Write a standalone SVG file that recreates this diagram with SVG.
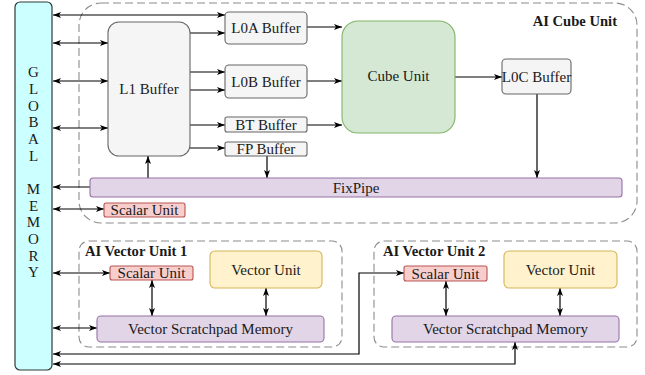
<svg xmlns="http://www.w3.org/2000/svg" width="645" height="375" viewBox="0 0 645 375">
  <style>
    text { font-family: "Liberation Serif", "Times New Roman", serif; font-size: 15px; fill: #1a1a1a; }
    .lbl { text-anchor: middle; dominant-baseline: central; }
    .bold { font-weight: bold; dominant-baseline: central; font-size: 14.6px; }
    .group { fill: none; stroke: #8c8c8c; stroke-width: 1.1; stroke-dasharray: 8 4; }
    .buf { fill: #f5f5f5; stroke: #666666; stroke-width: 1.1; }
    .cube { fill: #d5e8d4; stroke: #82b366; stroke-width: 1.1; }
    .purple { fill: #e1d5e7; stroke: #9673a6; stroke-width: 1.1; }
    .red { fill: #f8cecc; stroke: #b85450; stroke-width: 1.1; }
    .yellow { fill: #fff2cc; stroke: #d6b656; stroke-width: 1.1; }
    .gm { fill: #ccffff; stroke: #2f3a3a; stroke-width: 1.2; }
    .wire { fill: none; stroke: #000; stroke-width: 1.2; }
    .one { marker-end: url(#head); }
    .two { marker-start: url(#head); marker-end: url(#head); }
  </style>
  <defs>
    <marker id="head" viewBox="0 0 8 6" refX="8" refY="3" markerWidth="8" markerHeight="6" markerUnits="userSpaceOnUse" orient="auto-start-reverse">
      <path d="M0,0 L8,3 L0,6 L2,3 z" fill="#000"/>
    </marker>
  </defs>

  <!-- dashed unit frames -->
  <g id="ai-cube-unit">
    <rect class="group" x="79" y="3" width="558" height="220" rx="22"/>
    <text class="bold" x="617" y="21" text-anchor="end">AI Cube Unit</text>
  </g>
  <g id="ai-vector-unit-1">
    <rect class="group" x="79" y="241" width="263" height="106" rx="10"/>
    <text class="bold" x="85" y="251">AI Vector Unit 1</text>
  </g>
  <g id="ai-vector-unit-2">
    <rect class="group" x="374" y="241" width="263" height="106" rx="10"/>
    <text class="bold" x="383" y="251">AI Vector Unit 2</text>
  </g>

  <!-- connectors -->
  <g id="connectors">
    <!-- global memory links -->
    <line class="wire two" x1="53" y1="15" x2="225" y2="15"/>
    <line class="wire two" x1="53" y1="43" x2="108" y2="43"/>
    <line class="wire two" x1="53" y1="81" x2="108" y2="81"/>
    <line class="wire two" x1="53" y1="128" x2="108" y2="128"/>
    <line class="wire one" x1="90" y1="187" x2="53" y2="187"/>
    <line class="wire two" x1="53" y1="209" x2="104" y2="209"/>
    <line class="wire two" x1="53" y1="273" x2="110" y2="273"/>
    <line class="wire two" x1="53" y1="328" x2="97" y2="328"/>
    <polyline class="wire two" points="53,354 359,354 359,273 404,273"/>
    <polyline class="wire two" points="53,364 515,364 515,342"/>
    <!-- L1 buffer to local buffers -->
    <line class="wire one" x1="190" y1="33" x2="225" y2="33"/>
    <line class="wire one" x1="190" y1="72" x2="225" y2="72"/>
    <line class="wire one" x1="190" y1="90" x2="225" y2="90"/>
    <line class="wire one" x1="190" y1="125" x2="225" y2="125"/>
    <line class="wire one" x1="190" y1="148" x2="225" y2="148"/>
    <!-- buffers to cube unit -->
    <line class="wire one" x1="307" y1="27" x2="342" y2="27"/>
    <line class="wire one" x1="307" y1="81" x2="342" y2="81"/>
    <line class="wire one" x1="307" y1="125" x2="342" y2="125"/>
    <line class="wire one" x1="455" y1="77" x2="502" y2="77"/>
    <!-- into / out of FixPipe -->
    <line class="wire one" x1="537" y1="94" x2="537" y2="178"/>
    <line class="wire one" x1="267" y1="156" x2="267" y2="178"/>
    <line class="wire one" x1="148" y1="178" x2="148" y2="156"/>
    <!-- vector unit internals -->
    <line class="wire two" x1="152" y1="280" x2="152" y2="316"/>
    <line class="wire two" x1="266" y1="288" x2="266" y2="316"/>
    <line class="wire two" x1="446" y1="281" x2="446" y2="316"/>
    <line class="wire two" x1="560" y1="288" x2="560" y2="316"/>
  </g>

  <!-- global memory -->
  <g id="global-memory">
    <rect class="gm" x="15" y="2" width="37" height="368" rx="5"/>
    <text class="lbl" x="33.5" y="72">G</text>
    <text class="lbl" x="33.5" y="89">L</text>
    <text class="lbl" x="33.5" y="106">O</text>
    <text class="lbl" x="33.5" y="122">B</text>
    <text class="lbl" x="33.5" y="139">A</text>
    <text class="lbl" x="33.5" y="156">L</text>
    <text class="lbl" x="33.5" y="189">M</text>
    <text class="lbl" x="33.5" y="206">E</text>
    <text class="lbl" x="33.5" y="222">M</text>
    <text class="lbl" x="33.5" y="239">O</text>
    <text class="lbl" x="33.5" y="256">R</text>
    <text class="lbl" x="33.5" y="272">Y</text>
  </g>

  <!-- cube unit nodes -->
  <g id="l1-buffer">
    <rect class="buf" x="108" y="22" width="82" height="134" rx="11"/>
    <text class="lbl" x="149" y="89">L1 Buffer</text>
  </g>
  <g id="l0a-buffer">
    <rect class="buf" x="225" y="12" width="82" height="32" rx="4"/>
    <text class="lbl" x="266" y="28">L0A Buffer</text>
  </g>
  <g id="l0b-buffer">
    <rect class="buf" x="225" y="65" width="82" height="33" rx="4"/>
    <text class="lbl" x="266" y="81.5">L0B Buffer</text>
  </g>
  <g id="bt-buffer">
    <rect class="buf" x="225" y="117" width="82" height="15" rx="2"/>
    <text class="lbl" x="266" y="124.5">BT Buffer</text>
  </g>
  <g id="fp-buffer">
    <rect class="buf" x="225" y="142" width="82" height="14" rx="2"/>
    <text class="lbl" x="266" y="149">FP Buffer</text>
  </g>
  <g id="cube-unit">
    <rect class="cube" x="342" y="21" width="113" height="112" rx="16"/>
    <text class="lbl" x="398.5" y="76">Cube Unit</text>
  </g>
  <g id="l0c-buffer">
    <rect class="buf" x="502" y="59" width="69" height="35" rx="4"/>
    <text class="lbl" x="536.5" y="77">L0C Buffer</text>
  </g>
  <g id="fixpipe">
    <rect class="purple" x="90" y="178" width="532" height="19" rx="3"/>
    <text class="lbl" x="356" y="187.5">FixPipe</text>
  </g>
  <g id="cube-scalar-unit">
    <rect class="red" x="104" y="203" width="81" height="14" rx="2"/>
    <text class="lbl" x="144.5" y="210">Scalar Unit</text>
  </g>

  <!-- vector unit 1 nodes -->
  <g id="v1-scalar-unit">
    <rect class="red" x="110" y="266" width="83" height="14" rx="2"/>
    <text class="lbl" x="151.5" y="273">Scalar Unit</text>
  </g>
  <g id="v1-vector-unit">
    <rect class="yellow" x="210" y="251" width="112" height="37" rx="5"/>
    <text class="lbl" x="266" y="269.5">Vector Unit</text>
  </g>
  <g id="v1-scratchpad">
    <rect class="purple" x="97" y="316" width="227" height="26" rx="4"/>
    <text class="lbl" x="210.5" y="329">Vector Scratchpad Memory</text>
  </g>

  <!-- vector unit 2 nodes -->
  <g id="v2-scalar-unit">
    <rect class="red" x="404" y="266" width="83" height="15" rx="2"/>
    <text class="lbl" x="445.5" y="273.5">Scalar Unit</text>
  </g>
  <g id="v2-vector-unit">
    <rect class="yellow" x="504" y="251" width="113" height="37" rx="5"/>
    <text class="lbl" x="560.5" y="269.5">Vector Unit</text>
  </g>
  <g id="v2-scratchpad">
    <rect class="purple" x="392" y="316" width="227" height="26" rx="4"/>
    <text class="lbl" x="505.5" y="329">Vector Scratchpad Memory</text>
  </g>
</svg>
